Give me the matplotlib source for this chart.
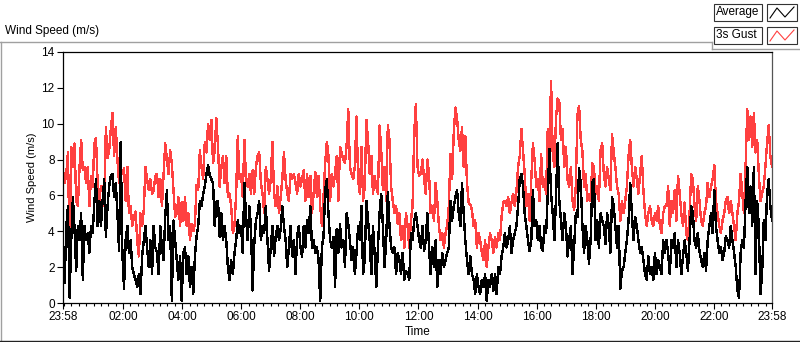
import pandas as pd
import matplotlib
matplotlib.use("Agg")
import matplotlib.pyplot as plt
import matplotlib.dates as mdates
from matplotlib.patches import Rectangle
from matplotlib.lines import Line2D

# 3s gust (m/s) left to right, ~3.4 min apart
gust = [
    7.4, 6.7, 7.2, 8.4, 2.8, 8.7, 7.6, 8.9, 5.7, 5.4,
    7.5, 9.1, 7.4, 7.6, 6.7, 7.6, 5.4, 7.1, 6.5, 8.9,
    9.2, 6.7, 5.7, 6.5, 6.5, 5.4, 9.8, 8.1, 8.5, 9.7,
    10.6, 8.2, 9.8, 8.0, 6.7, 7.5, 7.2, 7.5, 5.7, 7.6,
    5.0, 5.4, 4.3, 4.8, 5.1, 3.5, 2.6, 5.0, 4.3, 5.2,
    7.6, 6.9, 6.3, 6.9, 6.1, 6.3, 7.1, 7.2, 5.9, 6.9,
    5.4, 7.2, 8.9, 8.0, 7.2, 8.5, 7.8, 6.3, 4.8, 5.0,
    5.9, 4.3, 5.6, 4.6,
    5.9, 4.3, 5.0, 3.5, 4.4, 4.0, 4.4, 6.6, 6.3, 8.5,
    7.6, 6.9, 9.0, 8.4, 10.0, 9.1, 10.2, 7.8, 8.5, 10.3,
    8.7, 6.5, 7.6, 8.2, 6.7, 8.2, 5.9, 6.1, 5.4, 3.9,
    4.3, 6.1, 9.3, 6.9, 7.2, 5.9, 9.1, 6.9, 6.5, 7.2,
    6.1, 7.4, 6.1, 7.6, 8.2, 8.4, 6.7, 6.1, 5.0, 7.6,
    6.9, 6.1, 6.9, 9.0, 6.1, 5.4, 6.5, 5.0, 5.9, 6.9,
    8.4, 6.9, 6.1, 5.7, 7.2, 6.9, 7.2, 6.7, 6.1, 7.2,
    6.5, 6.9, 7.4,
    5.7, 7.2, 5.9, 7.1, 5.0, 6.1, 7.3, 5.9, 7.1, 5.4,
    4.3, 5.9, 7.8, 9.0, 8.2, 5.7, 7.2, 6.5, 7.2, 8.2,
    5.7, 8.7, 8.4, 8.0, 7.8, 8.8, 10.8, 7.6, 7.2, 6.9,
    7.6, 10.4, 6.9, 6.1, 8.7, 5.7, 6.5, 10.2, 9.1, 7.2,
    8.2, 6.1, 7.1, 6.5, 6.1, 9.9, 8.5, 6.3, 7.6, 5.7,
    9.9, 9.1, 6.5, 5.7, 5.0, 5.4, 4.4, 5.0, 3.5, 4.3,
    3.1, 5.0, 4.3, 3.1, 4.6, 5.4, 9.5, 11.1, 7.6, 7.1,
    7.2, 8.0, 6.9,
    6.1, 8.0, 7.2, 5.0, 5.4, 4.6, 6.7, 5.7, 4.3, 3.5,
    3.9, 3.1, 3.9, 4.3, 5.4, 8.3, 6.9, 9.5, 10.9, 10.3,
    9.1, 8.5, 9.8, 7.6, 9.3, 6.7, 5.6, 5.5, 5.2, 4.3,
    4.6, 3.1, 3.9, 3.5, 2.8, 2.4, 3.5, 2.0, 3.1, 3.9,
    3.5, 2.8, 3.7, 3.1, 3.9, 3.5, 4.8, 5.6, 5.7, 5.4,
    5.9, 5.0, 5.6, 6.1, 5.4, 6.2, 7.6, 8.2, 9.7, 8.5,
    7.2, 5.4, 6.1, 4.6, 6.9, 8.9, 8.0, 6.5, 6.9, 5.7,
    8.3, 6.5, 6.9,
    6.1, 9.7, 8.4, 12.4, 8.4, 7.6, 10.3, 11.4, 11.2, 9.1,
    9.7, 7.6, 8.7, 6.9, 6.5, 7.6, 5.7, 5.2, 6.5, 10.5,
    11.0, 9.1, 8.5, 6.5, 7.2, 5.7, 6.1, 5.7, 7.8, 7.6,
    6.1, 6.5, 5.7, 8.5, 8.9, 7.2, 6.5, 7.6, 6.9, 6.3,
    9.4, 8.4, 7.6, 6.5, 6.1, 4.6, 5.7, 5.0, 5.7, 6.5,
    8.2, 9.1, 7.6, 6.5, 7.6, 6.9, 6.1, 7.2, 8.2, 6.3,
    5.0, 4.3, 5.0, 5.4, 4.6, 4.3, 5.0, 4.6, 5.4, 4.3,
    3.9, 5.0, 5.4,
    5.4, 6.5, 4.3, 5.7, 5.0, 6.3, 4.6, 7.1, 6.1, 5.0,
    4.3, 5.6, 3.9, 3.5, 5.0, 7.2, 6.9, 5.4, 4.6, 6.5,
    5.7, 4.6, 4.3, 5.0, 5.4, 6.7, 5.9, 6.5, 6.9, 7.7,
    5.7, 5.0, 4.3, 3.9, 4.6, 5.0, 5.7, 5.9, 5.0, 5.7,
    5.0, 4.3, 3.5, 5.0, 5.7, 7.2, 6.1, 5.0, 7.7, 10.8,
    9.1, 10.4, 8.7, 10.6, 8.4, 9.1, 7.2, 5.7, 6.1, 6.5,
    7.6, 8.9, 9.9, 8.2, 7.6,
]

# average wind speed (m/s), same sample times
average = [
    3.5, 1.1, 4.3, 5.4, 0.3, 3.5, 5.9, 4.1, 1.8, 4.3,
    3.5, 5.0, 1.3, 4.3, 3.5, 3.9, 2.8, 4.3, 3.9, 5.6,
    6.9, 4.3, 5.7, 4.3, 5.7, 6.9, 3.7, 5.4, 6.5, 7.1,
    7.2, 5.9, 6.7, 5.0, 2.9, 9.0, 2.8, 0.8, 3.5, 4.3,
    2.8, 3.5, 2.0, 1.6, 1.3, 0.9, 1.6, 0.5, 2.6, 3.5,
    4.3, 3.1, 2.0, 3.5, 1.6, 4.3, 3.1, 2.8, 1.6, 4.3,
    3.1, 2.4, 4.8, 6.3, 3.5, 4.3, 0.1, 4.6, 3.5, 2.4,
    1.3, 2.6, 0.1, 2.8,
    3.1, 1.6, 2.6, 0.9, 2.0, 0.5, 2.6, 3.7, 4.3, 5.7,
    5.4, 6.1, 6.5, 7.2, 7.7, 7.1, 6.9, 6.7, 4.3, 5.6,
    5.7, 3.7, 5.0, 3.5, 4.3, 3.5, 2.0, 1.3, 2.4, 1.6,
    2.8, 3.5, 4.6, 3.9, 4.3, 2.8, 6.7, 4.8, 3.5, 5.4,
    4.3, 0.7, 3.3, 4.6, 5.0, 5.7, 3.5, 4.3, 3.9, 5.4,
    3.5, 1.8, 3.1, 4.3, 2.6, 3.7, 4.3, 3.5, 4.1, 5.4,
    4.3, 3.5, 2.0, 3.1, 4.3, 2.6, 3.5, 1.6, 3.7, 4.3,
    3.1, 2.6, 4.3,
    3.1, 4.6, 3.9, 5.4, 3.1, 3.5, 2.8, 3.1, 2.4, 0.1,
    3.1, 3.7, 6.3, 6.9, 5.0, 3.5, 3.1, 3.7, 0.9, 4.1,
    2.8, 4.4, 3.1, 3.5, 2.0, 5.0, 4.4, 3.5, 2.4, 3.1,
    1.6, 2.8, 4.3, 3.5, 5.4, 1.6, 2.4, 5.7, 4.6, 3.5,
    1.6, 4.3, 2.8, 0.9, 3.1, 5.0, 6.1, 4.3, 2.0, 3.5,
    6.2, 4.3, 3.1, 2.8, 3.1, 1.6, 2.8, 2.4, 1.6, 2.8,
    1.3, 1.8, 1.6, 1.3, 3.9, 3.5, 4.6, 5.0, 4.3, 3.5,
    3.1, 4.3, 2.9,
    3.5, 5.0, 3.1, 1.6, 3.1, 2.0, 3.5, 0.9, 2.4, 1.6,
    2.8, 2.0, 2.4, 2.8, 3.1, 5.7, 4.6, 5.4, 5.9, 6.3,
    5.0, 4.3, 6.7, 5.0, 3.5, 2.4, 1.6, 2.6, 1.6, 1.3,
    0.5, 1.6, 0.9, 0.5, 1.3, 0.9, 1.6, 0.1, 1.3, 0.9,
    1.6, 0.7, 1.6, 0.5, 2.0, 1.6, 2.6, 3.1, 3.9, 3.1,
    3.5, 4.3, 2.8, 3.5, 3.9, 4.3, 5.4, 6.9, 7.2, 6.5,
    5.0, 4.3, 3.5, 2.9, 3.5, 6.3, 4.3, 4.6, 3.5, 4.3,
    3.1, 2.9, 4.3,
    3.9, 6.1, 8.6, 6.1, 5.0, 3.5, 5.9, 8.9, 5.7, 4.6,
    3.5, 5.0, 4.3, 2.6, 3.5, 4.3, 1.6, 3.1, 5.0, 4.8,
    7.5, 6.7, 4.3, 2.8, 4.3, 3.5, 2.2, 3.5, 6.7, 6.9,
    3.5, 4.6, 3.1, 5.0, 4.6, 4.3, 3.3, 5.0, 4.3, 2.8,
    5.9, 5.4, 4.3, 3.1, 4.3, 0.8, 1.8, 2.0, 2.8, 3.5,
    4.6, 6.7, 5.0, 3.5, 4.8, 4.3, 3.5, 2.8, 3.1, 2.4,
    1.6, 1.3, 2.6, 1.6, 2.0, 1.3, 2.8, 1.6, 2.4, 2.0,
    1.6, 3.5, 2.8,
    3.5, 2.8, 1.6, 3.5, 3.1, 3.9, 2.0, 3.5, 2.8, 1.6,
    2.6, 3.5, 2.8, 1.8, 3.5, 5.4, 5.0, 3.5, 3.1, 3.9,
    2.9, 2.4, 2.0, 2.8, 1.8, 3.5, 4.3, 5.0, 3.9, 6.3,
    4.3, 3.5, 2.8, 3.1, 2.4, 2.8, 3.7, 3.5, 3.1, 4.3,
    3.5, 2.8, 2.0, 0.7, 0.3, 2.8, 3.5, 3.1, 5.7, 7.6,
    5.0, 6.5, 4.3, 7.6, 1.6, 5.7, 4.3, 0.5, 1.6, 4.6,
    3.5, 6.1, 6.9, 5.4, 4.6,
]

start = pd.Timestamp("2014-05-01 23:58")
end = pd.Timestamp("2014-05-02 23:58")
times = pd.date_range(start, end, periods=len(gust))

y_ticks = [0, 2, 4, 6, 8, 10, 12, 14]
x_ticks = [start] + list(pd.date_range("2014-05-02 02:00", "2014-05-02 22:00", freq="2h")) + [end]

RED = "#ff4040"
W, H = 800, 342

plt.rcParams['font.family'] = ['Liberation Sans', 'DejaVu Sans']
fig = plt.figure(figsize=(W / 100, H / 100), dpi=100)
fig.patch.set_facecolor("white")


def fx(px):
    return px / W


def fy(py):
    return 1 - py / H


# plot area in pixel coords of the reference
ax = fig.add_axes([fx(63), fy(303), (772 - 63) / W, (303 - 52) / H])
ax.plot(times, gust, color=RED, lw=1.0, antialiased=False)
ax.plot(times, average, color="black", lw=1.0, antialiased=False)

ax.set_xlim(start, end)
ax.set_ylim(0, 14)
ax.set_yticks(y_ticks)
ax.set_xticks(x_ticks)
ax.xaxis.set_major_formatter(mdates.DateFormatter("%H:%M"))
ax.xaxis.set_minor_locator(mdates.MinuteLocator(byminute=[0, 15, 30, 45]))
ax.tick_params(axis="both", which="major", labelsize=8.5, length=4, width=0.8, pad=2)
ax.tick_params(axis="x", which="minor", length=2.5, width=0.8)
for s in ax.spines.values():
    s.set_linewidth(0.9)
    s.set_color("black")
ax.spines["right"].set_color("#555555")

ax.set_ylabel("Wind Speed (m/s)", fontsize=8, labelpad=3)
ax.set_xlabel("Time", fontsize=8.5, labelpad=2)

# panel caption and frame lines
fig.text(fx(5), fy(31), "Wind Speed (m/s)", fontsize=8.5, ha="left", va="center")
grey = "#a0a0a0"
fig.add_artist(Line2D([fx(0), fx(712)], [fy(42), fy(42)], color=grey, lw=1))
fig.add_artist(Line2D([fx(712), fx(712)], [fy(42), fy(49)], color=grey, lw=1))
fig.add_artist(Line2D([fx(712), fx(800)], [fy(49), fy(49)], color=grey, lw=1))
fig.add_artist(Line2D([fx(0.5), fx(0.5)], [fy(42), fy(341)], color=grey, lw=1))
fig.add_artist(Line2D([fx(0), fx(800)], [fy(341), fy(341)], color="#222222", lw=1))

# legend (plot name box + sample box per row)
for name, col, top in [("Average", "black", 4), ("3s Gust", RED, 27)]:
    fig.add_artist(Rectangle((fx(714), fy(top + 17)), 48 / W, 17 / H,
                             facecolor="white", edgecolor="#333333", lw=0.8))
    fig.text(fx(716), fy(top + 8.5), name, fontsize=8.5, ha="left", va="center")
    fig.add_artist(Rectangle((fx(767), fy(top + 17)), 30 / W, 17 / H,
                             facecolor="white", edgecolor="#333333", lw=0.8))
    fig.add_artist(Line2D([fx(770), fx(777), fx(785), fx(794)],
                          [fy(top + 14), fy(top + 4), fy(top + 13), fy(top + 3)],
                          color=col, lw=0.8))

fig.savefig("out.png", dpi=100)
